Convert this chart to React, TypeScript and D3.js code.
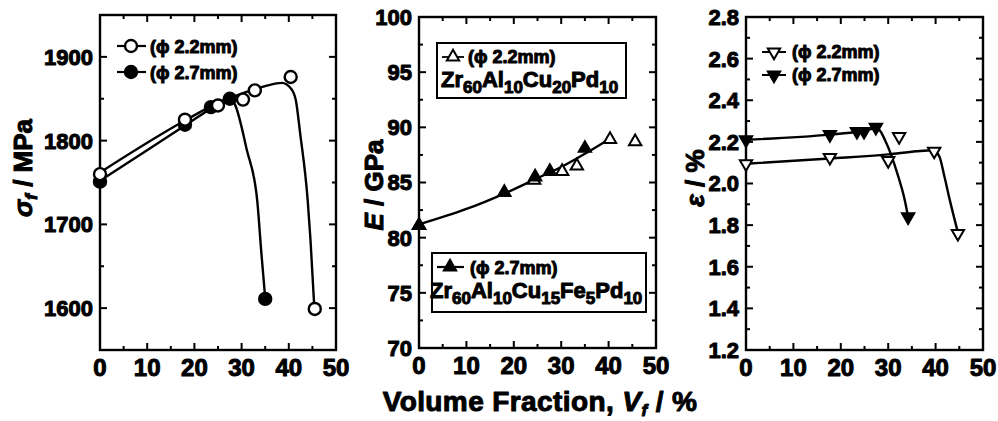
import React from "react";
import * as d3 from "d3";

// ---- Data -------------------------------------------------------------
// Panel 1: fracture strength sigma_f (MPa) vs. volume fraction Vf (%)
const sigVf22 = [0, 18, 25, 30.3, 32.8, 40.4, 45.5];
const sigVal22 = [1760, 1825, 1842, 1849, 1860, 1876, 1599];
const sigVf27 = [0, 18, 23.5, 27.5, 35];
const sigVal27 = [1751, 1819, 1840, 1850, 1611];
// smooth guide curves drawn through each series
const sigFitVf22 = [0, 18, 25, 30, 35, 38.5, 40.5, 41.5, 42.4, 44, 44.6, 45.4];
const sigFitVal22 = [1762, 1824, 1845, 1856, 1865, 1869, 1862, 1848, 1809, 1729, 1681, 1601];
const sigFitVf27 = [0, 18, 24, 27.5, 28.6, 31.1, 33.3, 34.2, 35];
const sigFitVal27 = [1752, 1818, 1840, 1851, 1843, 1789, 1729, 1665, 1612];

// Panel 2: Young's modulus E (GPa)
const eVf22 = [0, 24.3, 30.2, 33.3, 40.3, 45.6];
const eVal22 = [81.1, 85.2, 86.0, 86.5, 88.9, 88.7];
const eVf27 = [0, 18, 24.5, 27.6, 35];
const eVal27 = [81.1, 84.1, 85.5, 86.0, 88.1];
const eFitVf = [0, 10, 18, 25, 30, 35, 40];
const eFitVal = [81.2, 82.6, 84.0, 85.4, 86.4, 87.6, 88.9];

// Panel 3: plastic strain epsilon (%)
const epsVf22 = [0, 17.7, 30, 32.3, 39.7, 44.7];
const epsVal22 = [2.095, 2.125, 2.11, 2.225, 2.155, 1.76];
const epsVf27 = [0, 17.7, 23.4, 24.9, 27.4, 34.2];
const epsVal27 = [2.21, 2.235, 2.25, 2.25, 2.27, 1.84];
const epsFitVf22 = [0, 17.7, 30, 36, 39.5, 40.8, 41.8, 43, 44.7];
const epsFitVal22 = [2.095, 2.12, 2.14, 2.155, 2.16, 2.13, 2.04, 1.92, 1.765];
const epsFitVf27 = [0, 17.7, 24, 27.6, 29.7, 31.9, 33.5, 34.2];
const epsFitVal27 = [2.21, 2.235, 2.25, 2.265, 2.19, 2.05, 1.92, 1.84];

// Axes
const xTicks = [0, 10, 20, 30, 40, 50];
const xMinor = [5, 15, 25, 35, 45];
const sigTicks = [1600, 1700, 1800, 1900];
const sigMinor = [1550, 1650, 1750, 1850, 1950];
const eTicks = [70, 75, 80, 85, 90, 95, 100];
const eMinor = [72.5, 77.5, 82.5, 87.5, 92.5, 97.5];
const epsTicks = [1.2, 1.4, 1.6, 1.8, 2.0, 2.2, 2.4, 2.6, 2.8];
const epsMinor = [1.3, 1.5, 1.7, 1.9, 2.1, 2.3, 2.5, 2.7];

const legend22 = "(\u03d5 2.2mm)";
const legend27 = "(\u03d5 2.7mm)";

const FONT = "'Liberation Sans', Arial, Helvetica, sans-serif";

type Pt = [number, number];
const zip = (a: number[], b: number[]): Pt[] => a.map((v, i) => [v, b[i]]);

const textStyle = {
  fontFamily: FONT,
  fontWeight: 700 as const,
  fill: "#000",
  stroke: "#000",
  strokeWidth: 1,
  strokeLinejoin: "round" as const,
};

type PanelProps = {
  left: number;
  right: number;
  top: number;
  bottom: number;
  yDomain: [number, number];
  yTicks: number[];
  yMinor: number[];
  yFormat: (v: number) => string;
  children: (x: d3.ScaleLinear<number, number>, y: d3.ScaleLinear<number, number>) => React.ReactNode;
};

function Panel({ left, right, top, bottom, yDomain, yTicks, yMinor, yFormat, children }: PanelProps) {
  const x = d3.scaleLinear().domain([0, 50]).range([left, right]);
  const y = d3.scaleLinear().domain(yDomain).range([bottom, top]);
  const maj = 7;
  const min = 4;
  return (
    <g>
      <rect x={left} y={top} width={right - left} height={bottom - top} fill="none" stroke="#000" strokeWidth={2.4} />
      {xTicks.map((t) => (
        <g key={"xt" + t}>
          <line x1={x(t)} x2={x(t)} y1={bottom} y2={bottom - maj} stroke="#000" strokeWidth={2} />
          <line x1={x(t)} x2={x(t)} y1={top} y2={top + maj} stroke="#000" strokeWidth={2} />
          <text x={x(t)} y={bottom + 26} textAnchor="middle" fontSize={24} style={textStyle}>
            {t}
          </text>
        </g>
      ))}
      {xMinor.map((t) => (
        <g key={"xm" + t}>
          <line x1={x(t)} x2={x(t)} y1={bottom} y2={bottom - min} stroke="#000" strokeWidth={2} />
          <line x1={x(t)} x2={x(t)} y1={top} y2={top + min} stroke="#000" strokeWidth={2} />
        </g>
      ))}
      {yTicks.map((t) => (
        <g key={"yt" + t}>
          <line x1={left} x2={left + maj} y1={y(t)} y2={y(t)} stroke="#000" strokeWidth={2} />
          <line x1={right} x2={right - maj} y1={y(t)} y2={y(t)} stroke="#000" strokeWidth={2} />
          <text x={left - 7} y={y(t)} dy="0.36em" textAnchor="end" fontSize={22} style={textStyle}>
            {yFormat(t)}
          </text>
        </g>
      ))}
      {yMinor.map((t) => (
        <g key={"ym" + t}>
          <line x1={left} x2={left + min} y1={y(t)} y2={y(t)} stroke="#000" strokeWidth={2} />
          <line x1={right} x2={right - min} y1={y(t)} y2={y(t)} stroke="#000" strokeWidth={2} />
        </g>
      ))}
      {children(x, y)}
    </g>
  );
}

const smooth = (x: d3.ScaleLinear<number, number>, y: d3.ScaleLinear<number, number>) =>
  d3
    .line<Pt>()
    .x((d) => x(d[0]))
    .y((d) => y(d[1]))
    .curve(d3.curveMonotoneX);

const triUp = d3.symbol().type(d3.symbolTriangle).size(66)() as string;

function Tri({ cx, cy, filled, down }: { cx: number; cy: number; filled: boolean; down?: boolean }) {
  return (
    <path
      d={triUp}
      transform={`translate(${cx},${cy})${down ? " rotate(180)" : ""}`}
      fill={filled ? "#000" : "#fff"}
      stroke="#000"
      strokeWidth={2}
    />
  );
}

function Circ({ cx, cy, filled }: { cx: number; cy: number; filled: boolean }) {
  return <circle cx={cx} cy={cy} r={6} fill={filled ? "#000" : "#fff"} stroke="#000" strokeWidth={2.4} />;
}

export default function App() {
  const sub = (s: string) => (
    <tspan dy={6} fontSize={17}>
      {s}
    </tspan>
  );
  const up = (s: string) => <tspan dy={-6}>{s}</tspan>;
  return (
    <svg
      width={998}
      height={421}
      viewBox="0 0 998 421"
      style={{ position: "absolute", left: 0, top: 0, background: "#fff" }}
    >
      <rect width={998} height={421} fill="#fff" />

      {/* Panel 1: fracture strength */}
      <Panel
        left={100}
        right={336}
        top={15}
        bottom={350}
        yDomain={[1550, 1950]}
        yTicks={sigTicks}
        yMinor={sigMinor}
        yFormat={(v) => String(v)}
      >
        {(x, y) => {
          const ln = smooth(x, y);
          return (
            <g>
              <path d={ln(zip(sigFitVf22, sigFitVal22)) || ""} fill="none" stroke="#000" strokeWidth={2.4} />
              <path d={ln(zip(sigFitVf27, sigFitVal27)) || ""} fill="none" stroke="#000" strokeWidth={2.4} />
              {zip(sigVf27, sigVal27).map((d, i) => (
                <Circ key={"s27" + i} cx={x(d[0])} cy={y(d[1])} filled />
              ))}
              {zip(sigVf22, sigVal22).map((d, i) => (
                <Circ key={"s22" + i} cx={x(d[0])} cy={y(d[1])} filled={false} />
              ))}
              {/* legend */}
              <line x1={117} x2={146} y1={46} y2={46} stroke="#000" strokeWidth={2.2} />
              <Circ cx={131} cy={46} filled={false} />
              <text x={150} y={53} fontSize={18} style={textStyle}>
                {legend22}
              </text>
              <line x1={117} x2={146} y1={72} y2={72} stroke="#000" strokeWidth={2.2} />
              <Circ cx={131} cy={72} filled />
              <text x={150} y={79} fontSize={18} style={textStyle}>
                {legend27}
              </text>
            </g>
          );
        }}
      </Panel>

      {/* Panel 2: Young's modulus */}
      <Panel
        left={419}
        right={656}
        top={17}
        bottom={348}
        yDomain={[70, 100]}
        yTicks={eTicks}
        yMinor={eMinor}
        yFormat={(v) => String(v)}
      >
        {(x, y) => {
          const ln = smooth(x, y);
          return (
            <g>
              <path d={ln(zip(eFitVf, eFitVal)) || ""} fill="none" stroke="#000" strokeWidth={2.4} />
              {zip(eVf22, eVal22).map((d, i) => (
                <Tri key={"e22" + i} cx={x(d[0])} cy={y(d[1])} filled={false} />
              ))}
              {zip(eVf27, eVal27).map((d, i) => (
                <Tri key={"e27" + i} cx={x(d[0])} cy={y(d[1])} filled />
              ))}
              {/* upper legend box */}
              <rect x={437} y={43} width={189} height={55} fill="#fff" stroke="#000" strokeWidth={2} />
              <line x1={442} x2={464} y1={57} y2={57} stroke="#000" strokeWidth={1.8} />
              <Tri cx={453} cy={57} filled={false} />
              <text x={468} y={63} fontSize={18} style={textStyle}>
                {legend22}
              </text>
              <text x={441} y={87} fontSize={22} style={textStyle}>
                Zr{sub("60")}
                {up("Al")}
                {sub("10")}
                {up("Cu")}
                {sub("20")}
                {up("Pd")}
                {sub("10")}
              </text>
              {/* lower legend box */}
              <rect x={432} y={253} width={214} height={59} fill="#fff" stroke="#000" strokeWidth={2} />
              <line x1={437} x2={464} y1={267} y2={267} stroke="#000" strokeWidth={2.2} />
              <Tri cx={450} cy={267} filled />
              <text x={470} y={274} fontSize={18} style={textStyle}>
                {legend27}
              </text>
              <text x={430} y={298} fontSize={22} style={textStyle}>
                Zr{sub("60")}
                {up("Al")}
                {sub("10")}
                {up("Cu")}
                {sub("15")}
                {up("Fe")}
                {sub("5")}
                {up("Pd")}
                {sub("10")}
              </text>
            </g>
          );
        }}
      </Panel>

      {/* Panel 3: plastic strain */}
      <Panel
        left={746}
        right={983}
        top={17}
        bottom={350}
        yDomain={[1.2, 2.8]}
        yTicks={epsTicks}
        yMinor={epsMinor}
        yFormat={(v) => v.toFixed(1)}
      >
        {(x, y) => {
          const ln = smooth(x, y);
          return (
            <g>
              <path d={ln(zip(epsFitVf22, epsFitVal22)) || ""} fill="none" stroke="#000" strokeWidth={2.4} />
              <path d={ln(zip(epsFitVf27, epsFitVal27)) || ""} fill="none" stroke="#000" strokeWidth={2.4} />
              {zip(epsVf22, epsVal22).map((d, i) => (
                <Tri key={"p22" + i} cx={x(d[0])} cy={y(d[1])} filled={false} down />
              ))}
              {zip(epsVf27, epsVal27).map((d, i) => (
                <Tri key={"p27" + i} cx={x(d[0])} cy={y(d[1])} filled down />
              ))}
              <line x1={762} x2={786} y1={52} y2={52} stroke="#000" strokeWidth={2} />
              <Tri cx={774} cy={52} filled={false} down />
              <text x={792} y={58} fontSize={18} style={textStyle}>
                {legend22}
              </text>
              <line x1={762} x2={786} y1={75} y2={75} stroke="#000" strokeWidth={2} />
              <Tri cx={774} cy={75} filled down />
              <text x={792} y={81} fontSize={18} style={textStyle}>
                {legend27}
              </text>
            </g>
          );
        }}
      </Panel>

      {/* Axis titles */}
      <text transform="translate(32,168) rotate(-90)" textAnchor="middle" fontSize={26} style={textStyle}>
        <tspan fontStyle="italic">σ</tspan>
        <tspan fontStyle="italic" fontSize={17} dy={5}>f</tspan>
        <tspan dy={-5}> / MPa</tspan>
      </text>
      <text transform="translate(383,185) rotate(-90)" textAnchor="middle" fontSize={26} style={textStyle}>
        <tspan fontStyle="italic">E</tspan>
        <tspan> / GPa</tspan>
      </text>
      <text transform="translate(704,178) rotate(-90)" textAnchor="middle" fontSize={26} style={textStyle}>
        <tspan fontStyle="italic">ε</tspan>
        <tspan> / %</tspan>
      </text>
      <text x={540} y={411} textAnchor="middle" fontSize={28} letterSpacing={0.4} style={textStyle}>
        Volume Fraction,{" "}
        <tspan fontStyle="italic">V</tspan>
        <tspan fontStyle="italic" fontSize={17} dy={5}>f</tspan>
        <tspan dy={-5}> / %</tspan>
      </text>
    </svg>
  );
}
